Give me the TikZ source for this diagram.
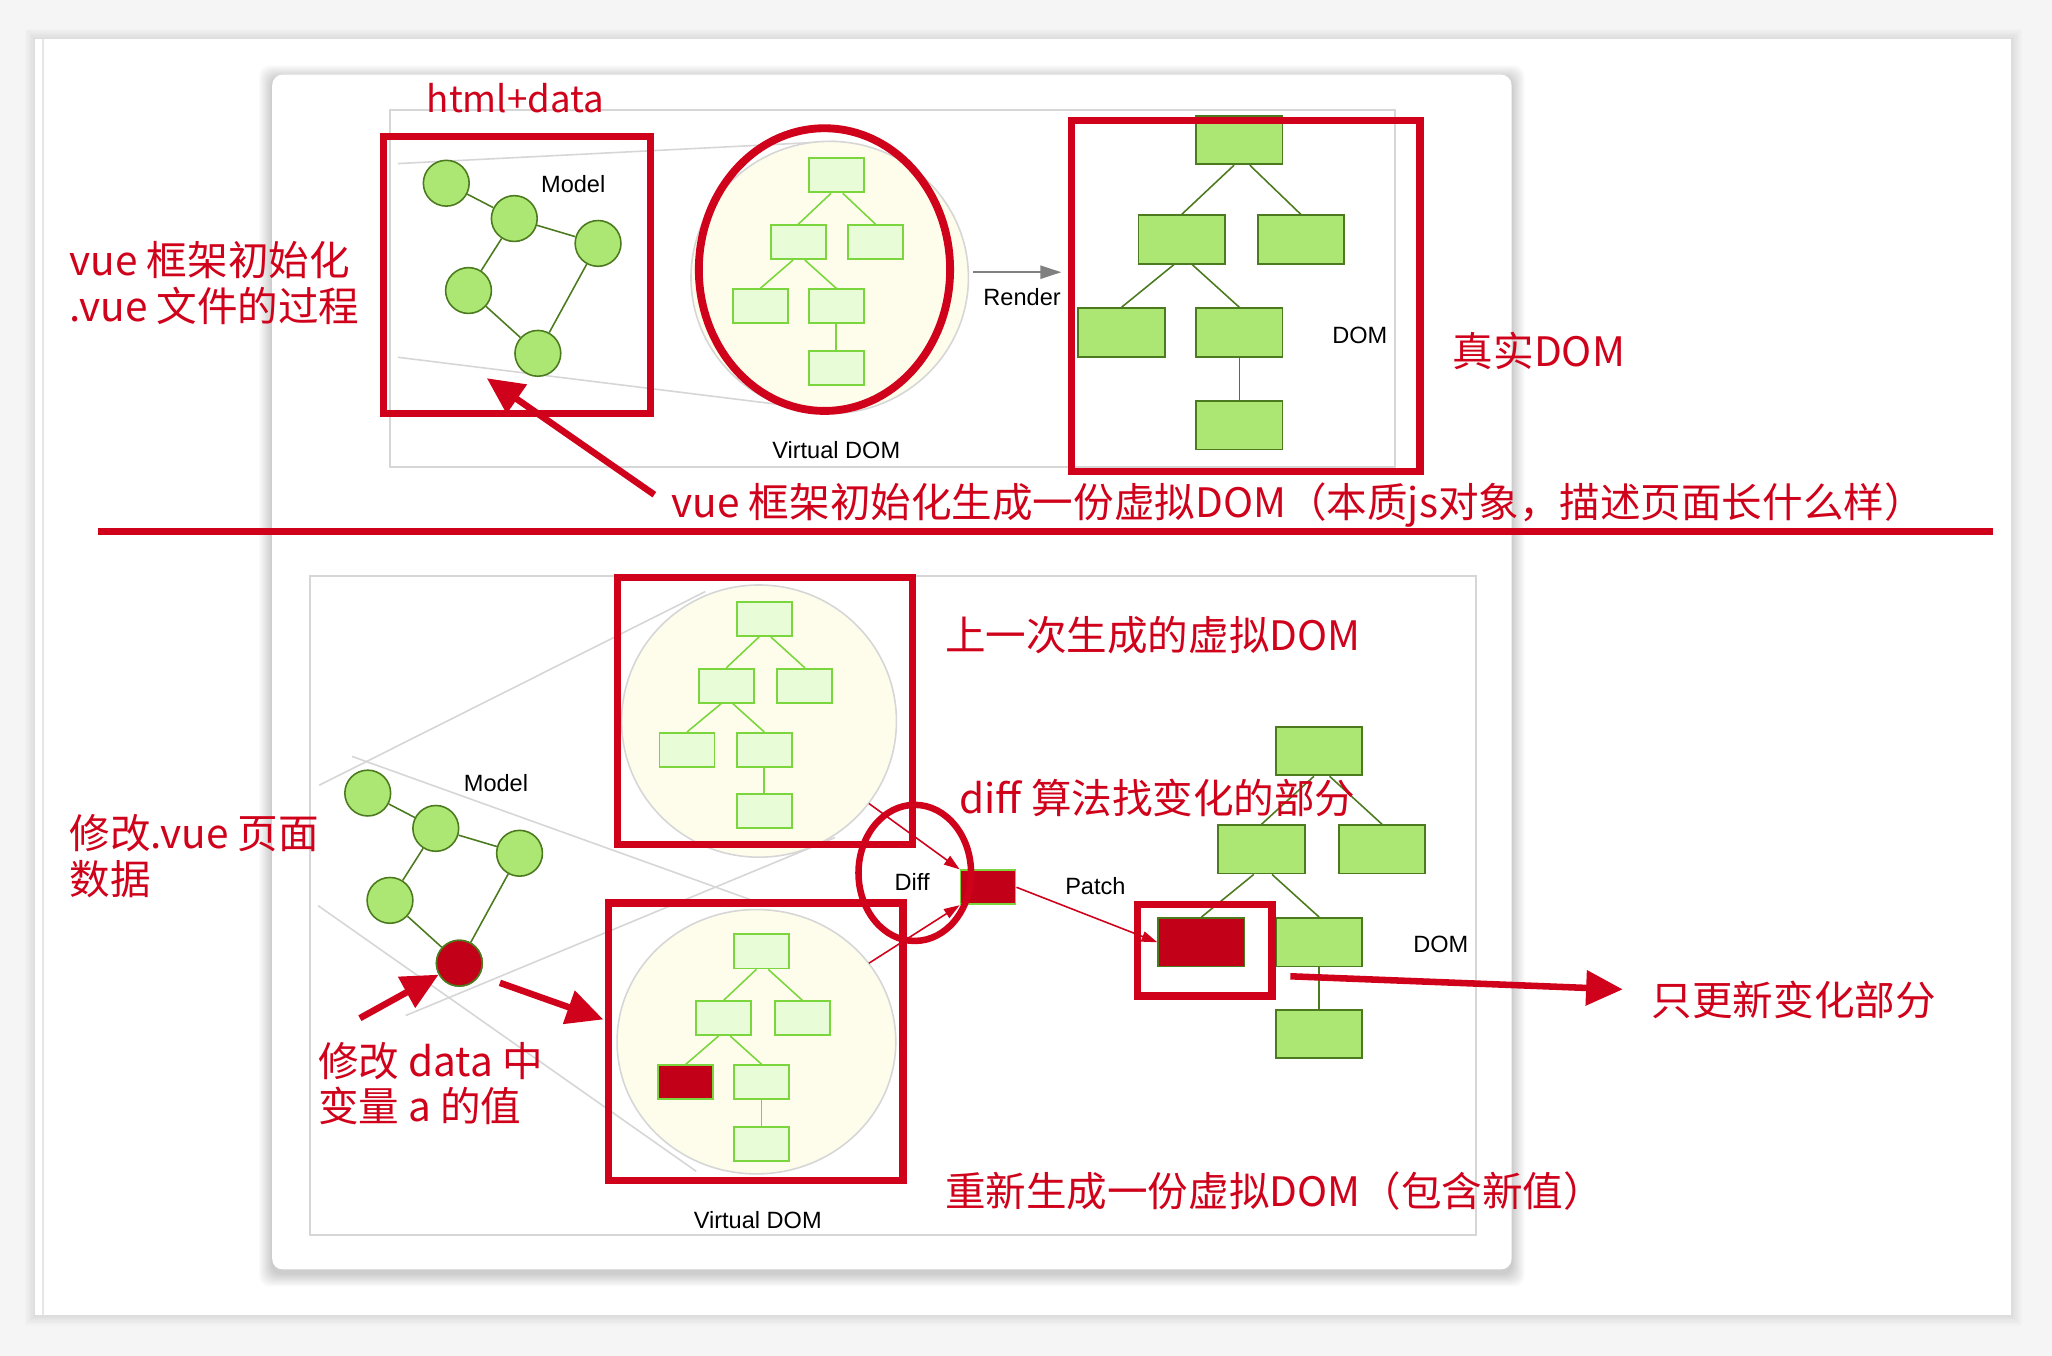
\documentclass[tikz,border=0pt]{standalone}
\usepackage{fontspec}
\setmainfont{Liberation Sans}
\newfontfamily\cjk{Noto Sans CJK SC}
\usepackage{xcolor}
\usetikzlibrary{arrows.meta, calc, shapes.geometric, positioning}

\definecolor{hongse}{HTML}{D0021B}
\definecolor{shenhong}{HTML}{C20017}
\definecolor{lvse}{HTML}{ACE673}
\definecolor{shenlv}{HTML}{4C7A1E}
\definecolor{qianlv}{HTML}{E9FCD8}
\definecolor{lianglv}{HTML}{7AD63C}
\definecolor{mihuang}{HTML}{FEFDEC}
\definecolor{huixian}{HTML}{D6D6D6}
\definecolor{beijing}{HTML}{F5F5F5}

\begin{document}
\begin{tikzpicture}[x=1pt, y=-1pt, >=Triangle,
    qiu/.style={circle, draw=shenlv, fill=lvse, line width=1.2pt, minimum size=35pt, inner sep=0pt},
    xuhe/.style={rectangle, draw=lianglv, fill=qianlv, line width=1.4pt, minimum width=42pt, minimum height=26pt, inner sep=0pt},
    zhenhe/.style={rectangle, draw=shenlv, fill=lvse, line width=1.4pt, minimum width=66pt, minimum height=37pt, inner sep=0pt},
    tuoyuan/.style={ellipse, draw=huixian, fill=mihuang, line width=1.2pt, inner sep=0pt},
    biaoqian/.style={font=\fontsize{18}{20}\selectfont, text=black, inner sep=0pt},
    hongzi/.style={font=\cjk\fontsize{31}{35}\selectfont, text=hongse, inner sep=0pt, anchor=west, align=left},
    hongkuang/.style={draw=hongse, line width=5.5pt},
    cujian/.style={draw=hongse, line width=5pt, -{Triangle[length=28pt, width=26pt]}},
    xijian/.style={draw=hongse, line width=1.2pt, -{Triangle[length=12pt, width=8pt]}},
    huijian/.style={draw=gray, line width=1.5pt, -{Triangle[length=16pt, width=10pt]}},
    kuangxian/.style={draw=huixian, line width=1.5pt},
    toushi/.style={draw=huixian, line width=1.2pt}]
    \useasboundingbox (0,0) rectangle (1568,1036);

    % 0. 背景与卡片
    \fill[beijing] (0,0) rectangle (1568,1036);
    \foreach \s in {1,...,8}
        \fill[black, opacity=0.012] (27-\s,30-\s) rectangle (1537+\s,1005+\s);
    \fill[white] (27,30) rectangle (1537,1005);
    \draw[color=gray!20, line width=2pt] (33,30) -- (33,1005);
    \foreach \s in {1,...,10}
        \fill[black, opacity=0.02, rounded corners=8pt] (208-\s,57-\s+3) rectangle (1155+\s,970+\s+3);
    \fill[white, rounded corners=8pt] (208,57) rectangle (1155,970);

    % 1. 初始化：Model -> Virtual DOM -> DOM
    \draw[kuangxian] (298,84) rectangle (1066,357);
    \draw[toushi] (304,125) -- (639,108);
    \draw[toushi] (304,273) -- (627,313);
    \foreach \n/\x/\y in {1/341/140, 2/393/167, 3/457/186, 4/358/222, 5/411/270}
        \node[qiu] (a\n) at (\x,\y) {};
    \foreach \p/\q in {1/2, 2/3, 2/4, 4/5, 3/5}
        \draw[shenlv, line width=1.2pt] (a\p) -- (a\q);
    \node[biaoqian] (model1) at (438,141) {Model};

    \node[tuoyuan, minimum width=212pt, minimum height=208pt] (vdom1) at (634,212) {};
    \foreach \n/\x/\y in {1/639/134, 2/610/185, 3/669/185, 4/581/234, 5/639/234, 6/639/281}
        \node[xuhe] (u\n) at (\x,\y) {};
    \foreach \p/\q/\dx in {1/2/-4, 1/3/5, 2/4/-4, 2/5/5, 5/6/0}
        \draw[lianglv, line width=1.2pt] ([xshift=\dx pt]u\p.south) -- (u\q.north);
    \draw[hongse, line width=6pt] (630,206) ellipse [x radius=96, y radius=108];
    \node[biaoqian] (vlabel1) at (639,344) {Virtual DOM};

    \coordinate (xuanran) at (811,208);
    \draw[huijian] ([xshift=3pt, yshift=4pt]vdom1.east) -- (xuanran);
    \node[biaoqian] (render) at (781,227) {Render};

    \foreach \n/\x/\y in {1/947/107, 2/903/183, 3/994/183, 4/857/254, 5/947/254, 6/947/325}
        \node[zhenhe] (d\n) at (\x,\y) {};
    \foreach \p/\q/\dx in {1/2/-4, 1/3/8, 2/4/-6, 2/5/8, 5/6/0}
        \draw[shenlv, line width=1.2pt] ([xshift=\dx pt]d\p.south) -- (d\q.north);
    \node[biaoqian] (dom1) at (1039,256) {DOM};

    \draw[hongkuang] (293,104) rectangle (497,316);
    \draw[hongkuang] (819,92) rectangle (1085,360);

    \node[hongzi, font=\cjk\fontsize{28}{35}\selectfont] (htmldata) at (326,75) {html+data};
    \node[hongzi] (chushi) at (53,216) {vue 框架初始化\\.vue 文件的过程};
    \node[hongzi] (zhenshi) at (1110,268) {真实DOM};
    \node[hongzi] (shengcheng) at (513,386) {vue 框架初始化生成一份虚拟DOM（本质js对象，描述页面长什么样）};
    \coordinate (w1) at (500,378);
    \coordinate (w2) at (372,289);
    \draw[cujian] (w1) -- (w2);

    % 2. 分隔线
    \draw[hongse, line width=5pt] (75,406) -- (1523,406);

    % 3. 更新：Diff 与 Patch
    \draw[kuangxian] (237,440) rectangle (1128,944);
    \draw[toushi] (244,600) -- (539,452);
    \draw[toushi] (310,776) -- (638,640);
    \draw[toushi] (269,578) -- (575,688);
    \draw[toushi] (243,692) -- (532,895);

    \node[tuoyuan, minimum width=210pt, minimum height=208pt] (vold) at (580,551) {};
    \node[tuoyuan, minimum width=213pt, minimum height=202pt] (vnew) at (578,796) {};
    \foreach \n/\x/\y in {1/584/473, 2/555/524, 3/615/524, 4/525/573, 5/584/573, 6/584/620}
        \node[xuhe] (p\n) at (\x,\y) {};
    \foreach \n/\x/\y in {1/582/727, 2/553/778, 3/613/778, 4/524/827, 5/582/827, 6/582/874}
        \node[xuhe] (q\n) at (\x,\y) {};
    \node[xuhe, fill=shenhong] at (q4) {};
    \foreach \p/\q/\dx in {1/2/-4, 1/3/5, 2/4/-4, 2/5/5, 5/6/0} {
        \draw[lianglv, line width=1.2pt] ([xshift=\dx pt]p\p.south) -- (p\q.north);
        \draw[lianglv, line width=1.2pt] ([xshift=\dx pt]q\p.south) -- (q\q.north);
    }
    \draw[hongkuang] (472,441) rectangle (697,645);
    \draw[hongkuang] (465,690) rectangle (690,902);
    \node[biaoqian] (vlabel2) at (579,932) {Virtual DOM};

    \foreach \n/\x/\y in {1/281/606, 2/333/633, 3/397/652, 4/298/688, 5/351/736}
        \node[qiu] (m\n) at (\x,\y) {};
    \node[qiu, fill=shenhong] at (m5) {};
    \foreach \p/\q in {1/2, 2/3, 2/4, 4/5, 3/5}
        \draw[shenlv, line width=1.2pt] (m\p) -- (m\q);
    \node[biaoqian] (model2) at (379,598) {Model};

    \node[xuhe, fill=shenhong] (pb) at (755,678) {};
    \coordinate (s1) at (664,614);
    \coordinate (s2) at (664,736);
    \draw[xijian] (s1) -- (pb.north west);
    \draw[xijian] (s2) -- (pb.south west);
    \draw[hongse, line width=5pt] (699,667) ellipse [x radius=43, y radius=52];
    \node[biaoqian] (diff) at (697,674) {Diff};

    \foreach \n/\x/\y in {1/1008/574, 2/964/649, 3/1056/649, 4/918/720, 5/1008/720, 6/1008/790}
        \node[zhenhe] (e\n) at (\x,\y) {};
    \node[zhenhe, fill=shenhong] at (e4) {};
    \foreach \p/\q/\dx in {1/2/-4, 1/3/8, 2/4/-6, 2/5/8, 5/6/0}
        \draw[shenlv, line width=1.2pt] ([xshift=\dx pt]e\p.south) -- (e\q.north);
    \draw[xijian] (pb.east) -- (e4.west);
    \node[biaoqian] (patch) at (837,677) {Patch};
    \node[biaoqian] (dom2) at (1101,722) {DOM};
    \draw[hongkuang] (869,691) rectangle (972,761);

    \coordinate (j1) at (275,778);
    \coordinate (j2) at (382,751);
    \coordinate (j3) at (461,779);
    \coordinate (j4) at (986,746);
    \coordinate (j5) at (1240,756);
    \draw[cujian] (j1) -- (m5);
    \draw[cujian] (j2) -- (j3);
    \draw[cujian] (j4) -- (j5);

    \node[hongzi] (xiugai) at (53,654) {修改.vue 页面\\数据};
    \node[hongzi] (bianliang) at (243,828) {修改 data 中\\变量 a 的值};
    \node[hongzi] (shangyici) at (722,485) {上一次生成的虚拟DOM};
    \node[hongzi] (suanfa) at (733,610) {diff 算法找变化的部分};
    \node[hongzi] (gengxin) at (1262,764) {只更新变化部分};
    \node[hongzi] (chongxin) at (722,910) {重新生成一份虚拟DOM（包含新值）};
\end{tikzpicture}
\end{document}
